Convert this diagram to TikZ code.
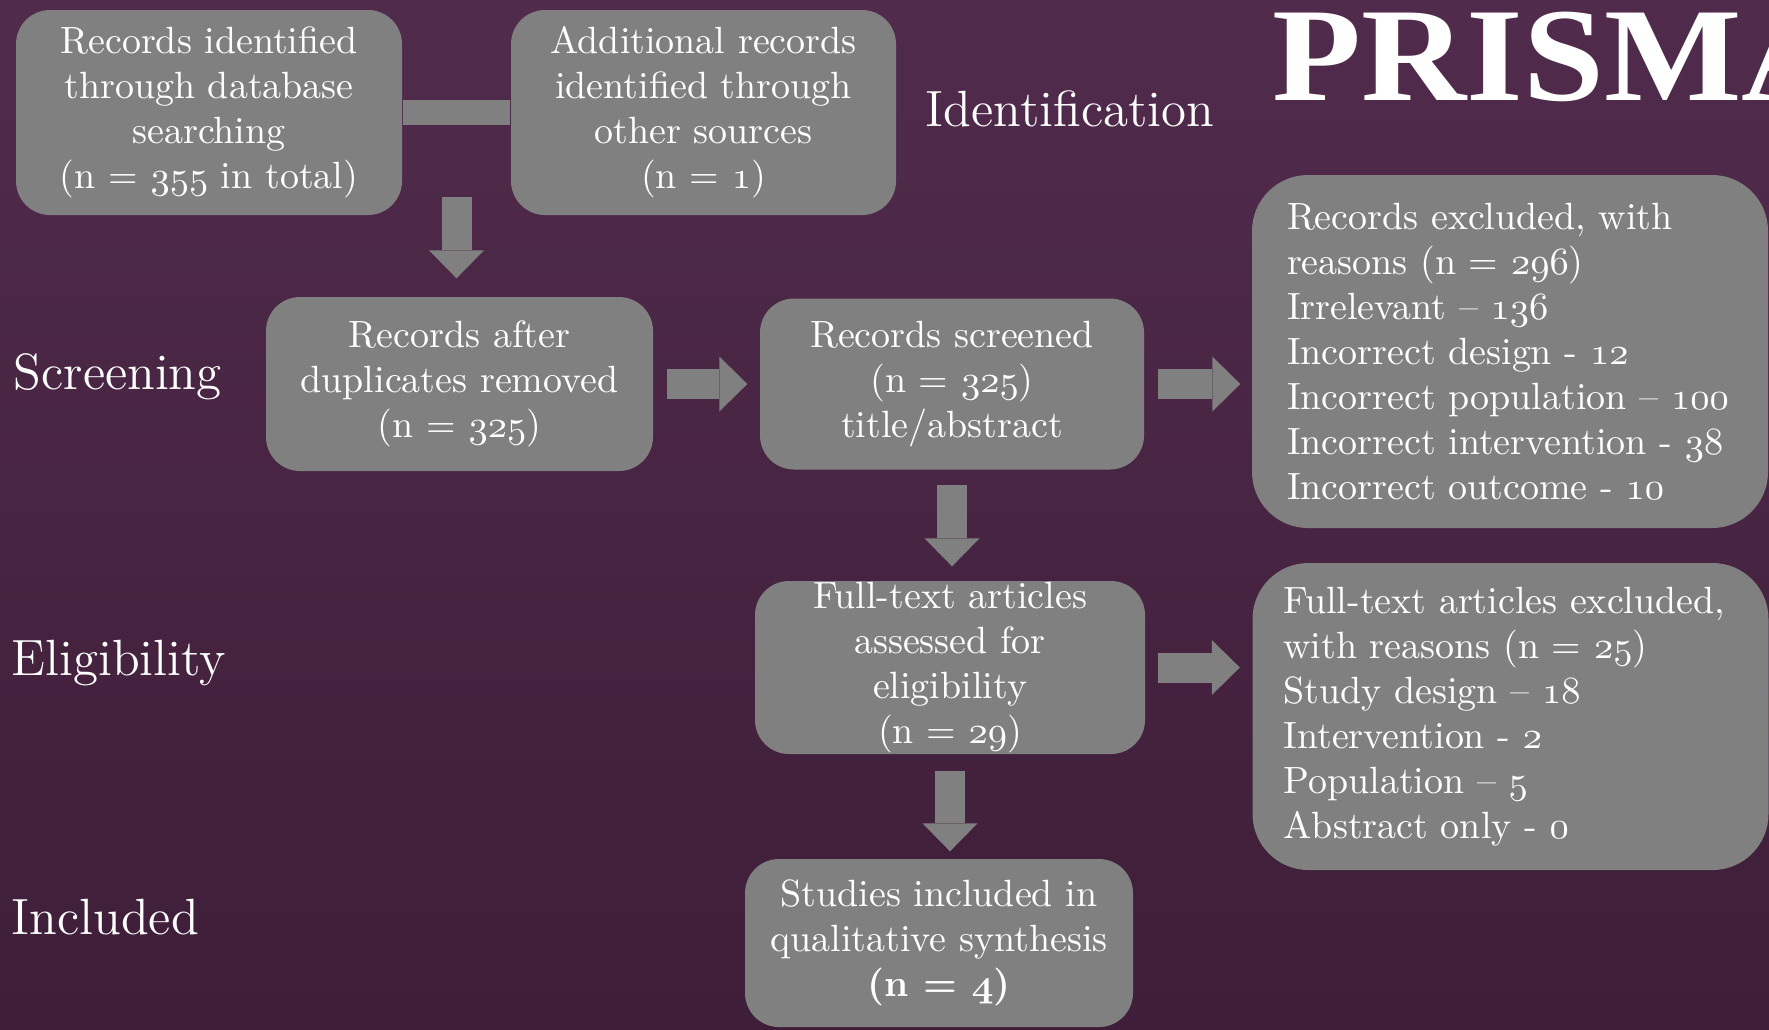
\documentclass[tikz,border=0pt]{standalone}
\usepackage{fontspec}
\usepackage{tikz}
\usetikzlibrary{arrows.meta, calc}
\newfontfamily\titlefont{Liberation Serif}
\definecolor{boxgray}{RGB}{128,128,128}
\definecolor{plumtop}{RGB}{81,43,76}
\definecolor{plumbot}{RGB}{62,30,56}
\newcommand{\osf}[1]{{\fontencoding{OML}\fontfamily{cmm}\fontshape{it}\selectfont#1}}

\begin{document}
\begin{tikzpicture}[x=0.1mm,y=-0.1mm,
    flowbox/.style={fill=boxgray,text=white,rounded corners=3.4mm,align=center,inner sep=0pt,font=\fontsize{10.8}{12.8}\selectfont},
    listbox/.style={fill=boxgray,text=white,rounded corners=5.6mm,align=left,inner ysep=0pt,font=\fontsize{10.8}{12.8}\selectfont},
    stage/.style={text=white,anchor=base west,inner sep=0pt,font=\fontsize{14.5}{17}\selectfont},
    fatarrow/.style={draw=boxgray,line width=3mm,-{Triangle[length=2.8mm,width=5.5mm,line width=0pt]}}]
  % background
  \clip (0,0) rectangle (1769,1029);
  \shade[top color=plumtop,bottom color=plumbot] (0,0) rectangle (1769,1029);

  % stages
  \node[stage] (ident) at (925,126) {Identification};
  \node[stage] (scr) at (13,389) {Screening};
  \node[stage] (elig) at (11,675) {Eligibility};
  \node[stage] (inc) at (11,934) {Included};
  \node[text=white,anchor=base west,inner sep=0pt,xscale=1.09,font=\titlefont\fontsize{38}{42}\selectfont\bfseries] (title) at (1272,100) {PRISMA};

  % boxes
  \node[flowbox,minimum width=38.6mm,minimum height=20.5mm] (dbase) at (209,112.5) {Records identified\\through database\\searching\\(n = \osf{355} in total)};
  \node[flowbox,minimum width=38.5mm,minimum height=20.5mm] (other) at (703.5,112.5) {Additional records\\identified through\\other sources\\(n = \osf{1})};
  \node[flowbox,minimum width=38.7mm,minimum height=17.4mm] (dedup) at (459.5,384) {Records after\\duplicates removed\\(n = \osf{325})};
  \node[flowbox,minimum width=38.4mm,minimum height=17.1mm] (screen) at (952,384) {Records screened\\(n = \osf{325})\\title/abstract};
  \node[listbox,text width=44.6mm,inner xsep=3.5mm,minimum height=35.3mm] (excl) at (1510,351.5)
    {Records excluded, with\\reasons (n = \osf{296})\\Irrelevant -- \osf{136}\\Incorrect design - \osf{12}\\Incorrect population -- \osf{100}\\Incorrect intervention - \osf{38}\\Incorrect outcome - \osf{10}};
  \node[flowbox,minimum width=39mm,minimum height=17.3mm] (full) at (950,667.5) {Full-text articles\\assessed for\\eligibility\\(n = \osf{29})};
  \node[listbox,text width=45.4mm,inner xsep=3.1mm,minimum height=30.7mm] (fullexcl) at (1510.5,716.5)
    {Full-text articles excluded,\\with reasons (n = \osf{25})\\Study design -- \osf{18}\\Intervention - \osf{2}\\Population -- \osf{5}\\Abstract only - \osf{0}};
  \node[flowbox,minimum width=38.8mm,minimum height=16.8mm] (incl) at (939,943) {Studies included in\\qualitative synthesis\\\textbf{(n = \osf{4})}};

  % connectors
  \draw[boxgray,line width=2.5mm] (dbase.east) -- (other.west);
  \coordinate (join) at ($(dbase.east)!0.5!(other.west)$);
  \draw[fatarrow,shorten <=8.4mm,shorten >=1.8mm] (join) -- (join |- dedup.north);
  \draw[fatarrow,shorten <=1.3mm,shorten >=1.2mm] (dedup.east) -- (screen.west);
  \draw[fatarrow,shorten <=1.3mm,shorten >=1.1mm] (screen.east) -- (screen.east -| excl.west);
  \draw[fatarrow,shorten <=1.5mm,shorten >=1.4mm] (screen.south) -- (screen.south |- full.north);
  \draw[fatarrow,shorten <=1.2mm,shorten >=1.2mm] (full.east) -- (full.east -| fullexcl.west);
  \draw[fatarrow,shorten <=1.6mm,shorten >=0.7mm] (full.south) -- (full.south |- incl.north);
\end{tikzpicture}
\end{document}
